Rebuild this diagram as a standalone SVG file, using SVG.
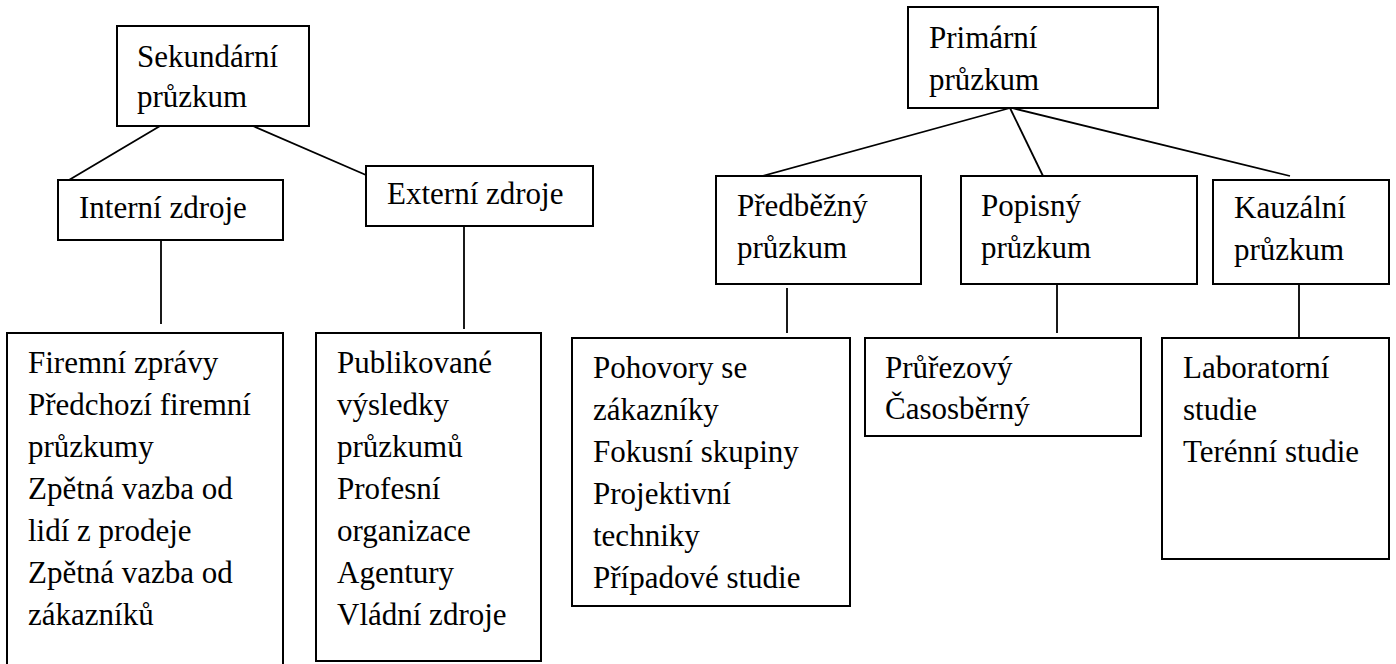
<svg xmlns="http://www.w3.org/2000/svg" width="1396" height="664" viewBox="0 0 1396 664">
<style>
.box{fill:#fff;stroke:#000;stroke-width:2}
.t{font-family:"Liberation Serif","Times New Roman",serif;font-size:31px;fill:#000}
.c{stroke:#000;stroke-width:1.8;fill:none}
</style>
<rect width="1396" height="664" fill="#fff"/>
<g id="connectors">
<line class="c" x1="160" y1="126" x2="69" y2="180"/>
<line class="c" x1="253" y1="126" x2="366" y2="175"/>
<line class="c" x1="161" y1="237" x2="161" y2="324"/>
<line class="c" x1="464" y1="226" x2="464" y2="329"/>
<line class="c" x1="1010" y1="108" x2="748" y2="180"/>
<line class="c" x1="1010" y1="108" x2="1043" y2="176"/>
<line class="c" x1="1012" y1="108" x2="1290" y2="176"/>
<line class="c" x1="787" y1="288" x2="787" y2="333"/>
<line class="c" x1="1057" y1="284" x2="1057" y2="333"/>
<line class="c" x1="1299" y1="284" x2="1299" y2="338"/>
</g>
<g id="sekundarni">
<rect class="box" x="117" y="26" width="192" height="100"/>
<text class="t" x="137" y="67">Sekundární</text>
<text class="t" x="137" y="107">průzkum</text>
</g>
<g id="interni">
<rect class="box" x="58" y="180" width="225" height="60"/>
<text class="t" x="79" y="218">Interní zdroje</text>
</g>
<g id="externi">
<rect class="box" x="366" y="166" width="227" height="60"/>
<text class="t" x="387" y="204">Externí zdroje</text>
</g>
<g id="interni-list">
<rect class="box" x="7" y="333" width="276" height="340"/>
<text class="t" x="28" y="373">Firemní zprávy</text>
<text class="t" x="28" y="415">Předchozí firemní</text>
<text class="t" x="28" y="457">průzkumy</text>
<text class="t" x="28" y="499">Zpětná vazba od</text>
<text class="t" x="28" y="541">lidí z prodeje</text>
<text class="t" x="28" y="583">Zpětná vazba od</text>
<text class="t" x="28" y="625">zákazníků</text>
</g>
<g id="externi-list">
<rect class="box" x="316" y="333" width="225" height="328"/>
<text class="t" x="337" y="373">Publikované</text>
<text class="t" x="337" y="415">výsledky</text>
<text class="t" x="337" y="457">průzkumů</text>
<text class="t" x="337" y="499">Profesní</text>
<text class="t" x="337" y="541">organizace</text>
<text class="t" x="337" y="583">Agentury</text>
<text class="t" x="337" y="625">Vládní zdroje</text>
</g>
<g id="primarni">
<rect class="box" x="908" y="7" width="250" height="101"/>
<text class="t" x="929" y="48">Primární</text>
<text class="t" x="929" y="90">průzkum</text>
</g>
<g id="predbezny">
<rect class="box" x="716" y="176" width="205" height="108"/>
<text class="t" x="737" y="216">Předběžný</text>
<text class="t" x="737" y="258">průzkum</text>
</g>
<g id="popisny">
<rect class="box" x="961" y="176" width="236" height="108"/>
<text class="t" x="981" y="216">Popisný</text>
<text class="t" x="981" y="258">průzkum</text>
</g>
<g id="kauzalni">
<rect class="box" x="1213" y="180" width="176" height="104"/>
<text class="t" x="1234" y="218">Kauzální</text>
<text class="t" x="1234" y="260">průzkum</text>
</g>
<g id="predbezny-list">
<rect class="box" x="572" y="338" width="278" height="268"/>
<text class="t" x="593" y="378">Pohovory se</text>
<text class="t" x="593" y="420">zákazníky</text>
<text class="t" x="593" y="462">Fokusní skupiny</text>
<text class="t" x="593" y="504">Projektivní</text>
<text class="t" x="593" y="546">techniky</text>
<text class="t" x="593" y="588">Případové studie</text>
</g>
<g id="popisny-list">
<rect class="box" x="865" y="338" width="276" height="98"/>
<text class="t" x="885" y="378">Průřezový</text>
<text class="t" x="885" y="419">Časosběrný</text>
</g>
<g id="kauzalni-list">
<rect class="box" x="1162" y="338" width="227" height="221"/>
<text class="t" x="1183" y="378">Laboratorní</text>
<text class="t" x="1183" y="420">studie</text>
<text class="t" x="1183" y="462">Terénní studie</text>
</g>
</svg>
